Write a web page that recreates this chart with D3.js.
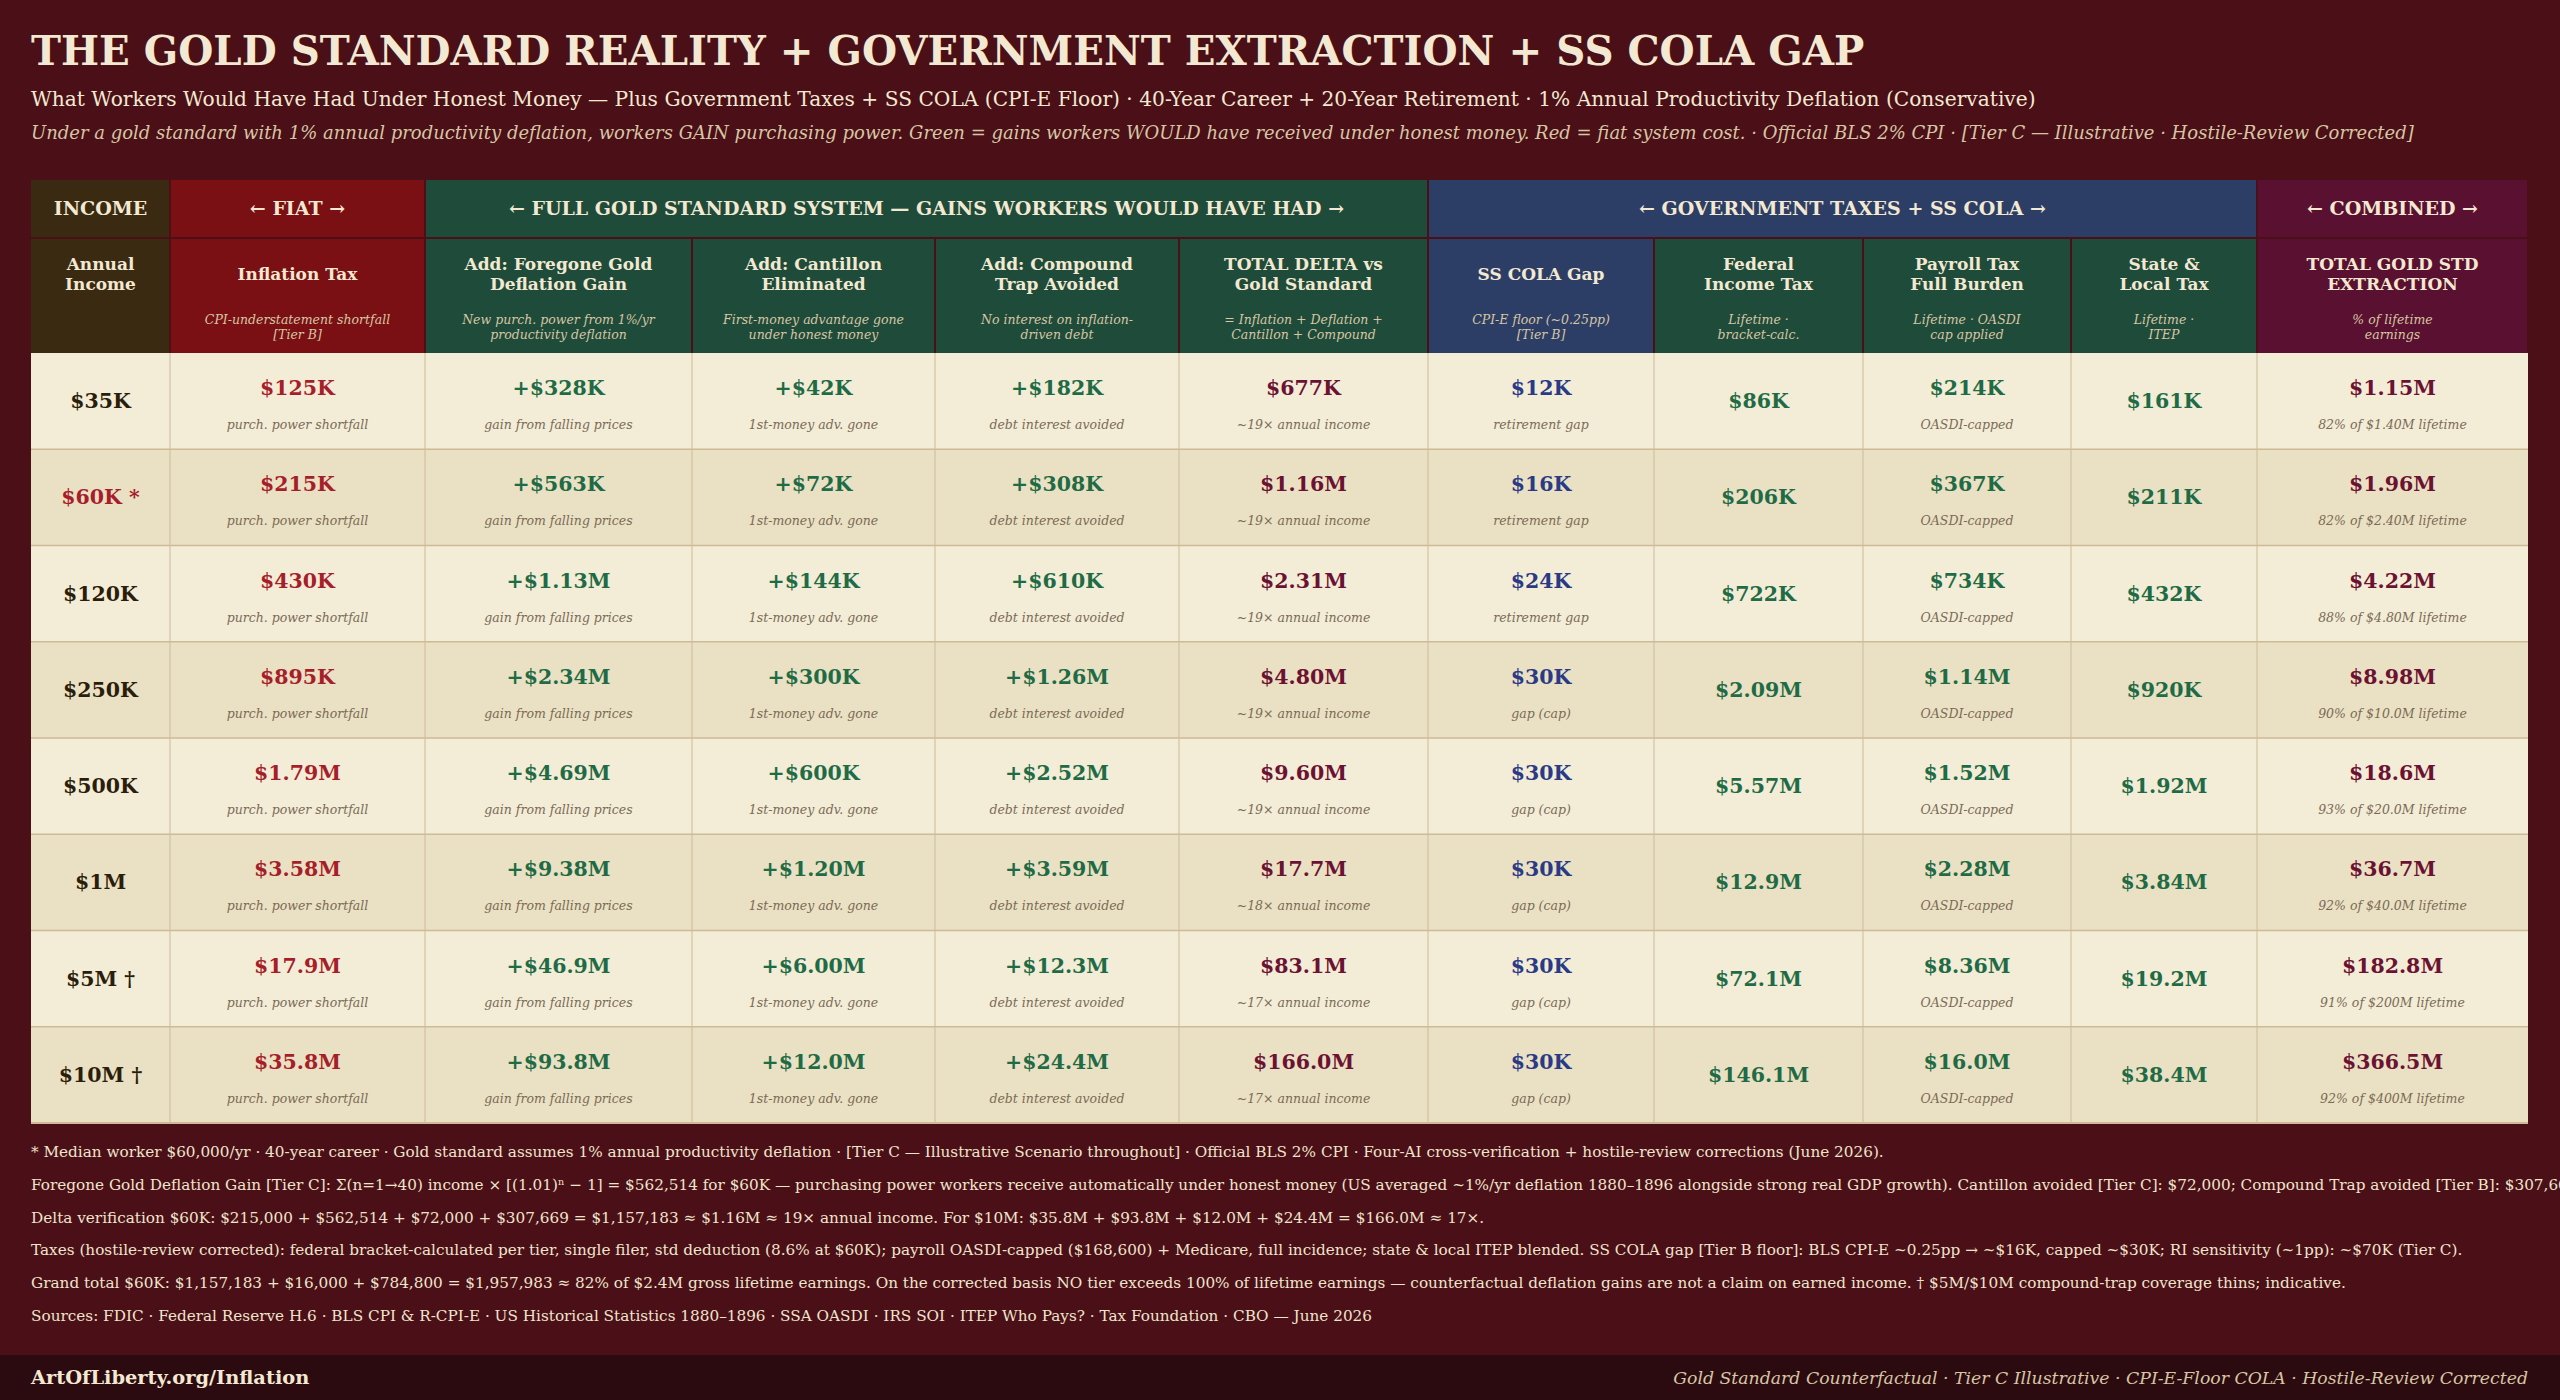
<!DOCTYPE html>
<html>
<head>
<meta charset="utf-8">
<script src="https://cdn.jsdelivr.net/npm/d3@7"></script>
<style>
  html, body { margin: 0; padding: 0; background: #4a0f17; }
  svg { display: block; }
</style>
</head>
<body>
<svg id="chart"></svg>
<script>
// ---- data ----
const incomes = ["$35K", "$60K *", "$120K", "$250K", "$500K", "$1M", "$5M †", "$10M †"];
const inflationTax = ["$125K", "$215K", "$430K", "$895K", "$1.79M", "$3.58M", "$17.9M", "$35.8M"];
const foregoneGain = ["+$328K", "+$563K", "+$1.13M", "+$2.34M", "+$4.69M", "+$9.38M", "+$46.9M", "+$93.8M"];
const cantillon = ["+$42K", "+$72K", "+$144K", "+$300K", "+$600K", "+$1.20M", "+$6.00M", "+$12.0M"];
const compoundTrap = ["+$182K", "+$308K", "+$610K", "+$1.26M", "+$2.52M", "+$3.59M", "+$12.3M", "+$24.4M"];
const totalDelta = ["$677K", "$1.16M", "$2.31M", "$4.80M", "$9.60M", "$17.7M", "$83.1M", "$166.0M"];
const deltaMultiple = ["~19×", "~19×", "~19×", "~19×", "~19×", "~18×", "~17×", "~17×"];
const colaGap = ["$12K", "$16K", "$24K", "$30K", "$30K", "$30K", "$30K", "$30K"];
const colaNote = ["retirement gap", "retirement gap", "retirement gap", "gap (cap)", "gap (cap)", "gap (cap)", "gap (cap)", "gap (cap)"];
const federalTax = ["$86K", "$206K", "$722K", "$2.09M", "$5.57M", "$12.9M", "$72.1M", "$146.1M"];
const payrollTax = ["$214K", "$367K", "$734K", "$1.14M", "$1.52M", "$2.28M", "$8.36M", "$16.0M"];
const stateTax = ["$161K", "$211K", "$432K", "$920K", "$1.92M", "$3.84M", "$19.2M", "$38.4M"];
const combinedTotal = ["$1.15M", "$1.96M", "$4.22M", "$8.98M", "$18.6M", "$36.7M", "$182.8M", "$366.5M"];
const lifetimeShare = ["82% of $1.40M lifetime", "82% of $2.40M lifetime", "88% of $4.80M lifetime", "90% of $10.0M lifetime",
  "93% of $20.0M lifetime", "92% of $40.0M lifetime", "91% of $200M lifetime", "92% of $400M lifetime"];

const groupHeaders = [
  { label: "INCOME", from: 0, to: 0, kind: "income" },
  { label: "← FIAT →", from: 1, to: 1, kind: "fiat" },
  { label: "← FULL GOLD STANDARD SYSTEM — GAINS WORKERS WOULD HAVE HAD →", from: 2, to: 5, kind: "gold" },
  { label: "← GOVERNMENT TAXES + SS COLA →", from: 6, to: 9, kind: "gov" },
  { label: "← COMBINED →", from: 10, to: 10, kind: "combined" }
];

const columnTitles = [
  ["Annual", "Income"], ["Inflation Tax"], ["Add: Foregone Gold", "Deflation Gain"], ["Add: Cantillon", "Eliminated"],
  ["Add: Compound", "Trap Avoided"], ["TOTAL DELTA vs", "Gold Standard"], ["SS COLA Gap"], ["Federal", "Income Tax"],
  ["Payroll Tax", "Full Burden"], ["State &", "Local Tax"], ["TOTAL GOLD STD", "EXTRACTION"]
];
const columnNotes = [
  [], ["CPI-understatement shortfall", "[Tier B]"], ["New purch. power from 1%/yr", "productivity deflation"],
  ["First-money advantage gone", "under honest money"], ["No interest on inflation-", "driven debt"],
  ["= Inflation + Deflation +", "Cantillon + Compound"], ["CPI-E floor (~0.25pp)", "[Tier B]"], ["Lifetime ·", "bracket-calc."],
  ["Lifetime · OASDI", "cap applied"], ["Lifetime ·", "ITEP"], ["% of lifetime", "earnings"]
];
const columnKinds = ["income", "fiat", "gold", "gold", "gold", "gold", "gov", "gold", "gold", "gold", "combined"];

const footnotes = [
  "* Median worker $60,000/yr · 40-year career · Gold standard assumes 1% annual productivity deflation · [Tier C — Illustrative Scenario throughout] · Official BLS 2% CPI · Four-AI cross-verification + hostile-review corrections (June 2026).",
  "Foregone Gold Deflation Gain [Tier C]: Σ(n=1→40) income × [(1.01)ⁿ − 1] = $562,514 for $60K — purchasing power workers receive automatically under honest money (US averaged ~1%/yr deflation 1880–1896 alongside strong real GDP growth). Cantillon avoided [Tier C]: $72,000; Compound Trap avoided [Tier B]: $307,669.",
  "Delta verification $60K: $215,000 + $562,514 + $72,000 + $307,669 = $1,157,183 ≈ $1.16M ≈ 19× annual income. For $10M: $35.8M + $93.8M + $12.0M + $24.4M = $166.0M ≈ 17×.",
  "Taxes (hostile-review corrected): federal bracket-calculated per tier, single filer, std deduction (8.6% at $60K); payroll OASDI-capped ($168,600) + Medicare, full incidence; state & local ITEP blended. SS COLA gap [Tier B floor]: BLS CPI-E ~0.25pp → ~$16K, capped ~$30K; RI sensitivity (~1pp): ~$70K (Tier C).",
  "Grand total $60K: $1,157,183 + $16,000 + $784,800 = $1,957,983 ≈ 82% of $2.4M gross lifetime earnings. On the corrected basis NO tier exceeds 100% of lifetime earnings — counterfactual deflation gains are not a claim on earned income. † $5M/$10M compound-trap coverage thins; indicative.",
  "Sources: FDIC · Federal Reserve H.6 · BLS CPI & R-CPI-E · US Historical Statistics 1880–1896 · SSA OASDI · IRS SOI · ITEP Who Pays? · Tax Foundation · CBO — June 2026"
];

// ---- layout ----
const W = 2560, H = 1400;
const FONT = "'DejaVu Serif', serif";
const colWidths = [139, 255, 267, 243, 244, 249, 226, 209, 208, 186, 271];
const tableX = 31;
const groupTop = 180, groupH = 57;
const headTop = 239, headH = 114;
const bodyTop = 353, bodyBottom = 1123;

const headFill = { income: "#3b2a12", fiat: "#7a1014", gold: "#1f4b3a", gov: "#2d3e66", combined: "#5a1030" };
const colors = {
  red: "#a61e2a", green: "#1f6b45", maroon: "#6b1232", blue: "#2b3a85", ink: "#2a1d0a",
  note: "#7a6b55", cream: "#f3e9d2", tan: "#d6c6a4", line: "#cdbb98"
};

const colEdges = d3.cumsum([0, ...colWidths]).map(v => tableX + v);
const colX = i => colEdges[i];
const colW = i => colEdges[i + 1] - colEdges[i];

const y = d3.scaleBand().domain(incomes).range([bodyTop, bodyBottom]).padding(0);

// each column: value array, note array (or null), colour
const columns = [
  { values: incomes, notes: null, color: (d, i) => i === 1 ? colors.red : colors.ink },
  { values: inflationTax, notes: incomes.map(() => "purch. power shortfall"), color: () => colors.red },
  { values: foregoneGain, notes: incomes.map(() => "gain from falling prices"), color: () => colors.green },
  { values: cantillon, notes: incomes.map(() => "1st-money adv. gone"), color: () => colors.green },
  { values: compoundTrap, notes: incomes.map(() => "debt interest avoided"), color: () => colors.green },
  { values: totalDelta, notes: deltaMultiple.map(m => m + " annual income"), color: () => colors.maroon },
  { values: colaGap, notes: colaNote, color: () => colors.blue },
  { values: federalTax, notes: null, color: () => colors.green },
  { values: payrollTax, notes: incomes.map(() => "OASDI-capped"), color: () => colors.green },
  { values: stateTax, notes: null, color: () => colors.green },
  { values: combinedTotal, notes: lifetimeShare, color: () => colors.maroon }
];

const svg = d3.select("#chart").attr("width", W).attr("height", H);
svg.append("rect").attr("width", W).attr("height", H).attr("fill", "#4a0f17");

// ---- titles ----
svg.append("text").attr("x", 31).attr("y", 65)
  .attr("font-family", FONT).attr("font-weight", "bold").attr("font-size", 40.3)
  .attr("fill", colors.cream)
  .text("THE GOLD STANDARD REALITY + GOVERNMENT EXTRACTION + SS COLA GAP");

svg.append("text").attr("x", 31).attr("y", 106)
  .attr("font-family", FONT).attr("font-size", 20.2).attr("fill", colors.cream)
  .text("What Workers Would Have Had Under Honest Money — Plus Government Taxes + SS COLA (CPI-E Floor) · 40-Year Career + 20-Year Retirement · 1% Annual Productivity Deflation (Conservative)");

svg.append("text").attr("x", 31).attr("y", 139)
  .attr("font-family", FONT).attr("font-style", "italic").attr("font-size", 18).attr("fill", colors.tan)
  .text("Under a gold standard with 1% annual productivity deflation, workers GAIN purchasing power. Green = gains workers WOULD have received under honest money. Red = fiat system cost. · Official BLS 2% CPI · [Tier C — Illustrative · Hostile-Review Corrected]");

// ---- group header row ----
const groups = svg.append("g");
groups.selectAll("rect").data(groupHeaders).enter().append("rect")
  .attr("x", d => colX(d.from) + (d.from === 0 ? 0 : 1))
  .attr("y", groupTop)
  .attr("width", d => colEdges[d.to + 1] - colX(d.from) - (d.from === 0 ? 1 : 2))
  .attr("height", groupH)
  .attr("fill", d => headFill[d.kind]);
groups.selectAll("text").data(groupHeaders).enter().append("text")
  .attr("x", d => (colX(d.from) + colEdges[d.to + 1]) / 2)
  .attr("y", groupTop + 35)
  .attr("text-anchor", "middle")
  .attr("font-family", FONT).attr("font-weight", "bold").attr("font-size", 19)
  .attr("fill", colors.cream)
  .text(d => d.label);

// ---- column header row ----
const heads = svg.append("g").selectAll("g").data(columnTitles).enter().append("g");
heads.append("rect")
  .attr("x", (d, i) => colX(i) + (i === 0 ? 0 : 1))
  .attr("y", headTop)
  .attr("width", (d, i) => colW(i) - (i === 0 ? 1 : 2))
  .attr("height", headH)
  .attr("fill", (d, i) => headFill[columnKinds[i]]);
heads.each(function(lines, i) {
  const g = d3.select(this);
  const cx = colX(i) + colW(i) / 2;
  const base = lines.length === 1 ? 280 : 270;
  lines.forEach((t, k) => {
    g.append("text").attr("x", cx).attr("y", base + k * 20)
      .attr("text-anchor", "middle")
      .attr("font-family", FONT).attr("font-weight", "bold").attr("font-size", 17)
      .attr("fill", colors.cream).text(t);
  });
  columnNotes[i].forEach((t, k) => {
    g.append("text").attr("x", cx).attr("y", 324 + k * 15)
      .attr("text-anchor", "middle")
      .attr("font-family", FONT).attr("font-style", "italic").attr("font-size", 12.5)
      .attr("fill", colors.tan).text(t);
  });
});

// ---- body ----
const body = svg.append("g");
body.selectAll("rect.row").data(incomes).enter().append("rect")
  .attr("class", "row")
  .attr("x", tableX).attr("y", d => y(d))
  .attr("width", colEdges[colEdges.length - 1] - tableX)
  .attr("height", y.bandwidth())
  .attr("fill", (d, i) => i % 2 === 0 ? "#f3ecd7" : "#eae0c3");

// grid lines
body.selectAll("line.h").data(incomes.slice(1)).enter().append("line")
  .attr("x1", tableX).attr("x2", colEdges[colEdges.length - 1])
  .attr("y1", d => y(d)).attr("y2", d => y(d))
  .attr("stroke", colors.line).attr("stroke-width", 1.5);
body.selectAll("line.v").data(colEdges.slice(1, -1)).enter().append("line")
  .attr("x1", d => d).attr("x2", d => d)
  .attr("y1", bodyTop).attr("y2", bodyBottom)
  .attr("stroke", colors.line).attr("stroke-width", 1);
body.append("line")
  .attr("x1", tableX).attr("x2", colEdges[colEdges.length - 1])
  .attr("y1", bodyBottom).attr("y2", bodyBottom)
  .attr("stroke", colors.line).attr("stroke-width", 2);

columns.forEach((col, ci) => {
  const cx = colX(ci) + colW(ci) / 2;
  const g = body.append("g");
  g.selectAll("text.val").data(col.values).enter().append("text")
    .attr("class", "val")
    .attr("x", cx)
    .attr("y", (d, i) => y(incomes[i]) + (col.notes ? 42 : 55))
    .attr("text-anchor", "middle")
    .attr("font-family", FONT).attr("font-weight", "bold").attr("font-size", 20.5)
    .attr("fill", (d, i) => col.color(d, i))
    .text(d => d);
  if (col.notes) {
    g.selectAll("text.note").data(col.notes).enter().append("text")
      .attr("class", "note")
      .attr("x", cx)
      .attr("y", (d, i) => y(incomes[i]) + 76)
      .attr("text-anchor", "middle")
      .attr("font-family", FONT).attr("font-style", "italic").attr("font-size", 12.5)
      .attr("fill", colors.note)
      .text(d => d);
  }
});

// ---- footnotes ----
svg.append("g").selectAll("text").data(footnotes).enter().append("text")
  .attr("x", 31).attr("y", (d, i) => 1157 + i * 32.8)
  .attr("font-family", FONT).attr("font-size", 15.25).attr("fill", "#efe4cc")
  .text(d => d);

// ---- footer bar ----
svg.append("rect").attr("x", 0).attr("y", 1355).attr("width", W).attr("height", 45).attr("fill", "#2c0b10");
svg.append("text").attr("x", 31).attr("y", 1384)
  .attr("font-family", FONT).attr("font-weight", "bold").attr("font-size", 19.4).attr("fill", colors.cream)
  .text("ArtOfLiberty.org/Inflation");
svg.append("text").attr("x", 2528).attr("y", 1384).attr("text-anchor", "end")
  .attr("font-family", FONT).attr("font-style", "italic").attr("font-size", 17.3).attr("fill", colors.tan)
  .text("Gold Standard Counterfactual · Tier C Illustrative · CPI-E-Floor COLA · Hostile-Review Corrected");
</script>
</body>
</html>
